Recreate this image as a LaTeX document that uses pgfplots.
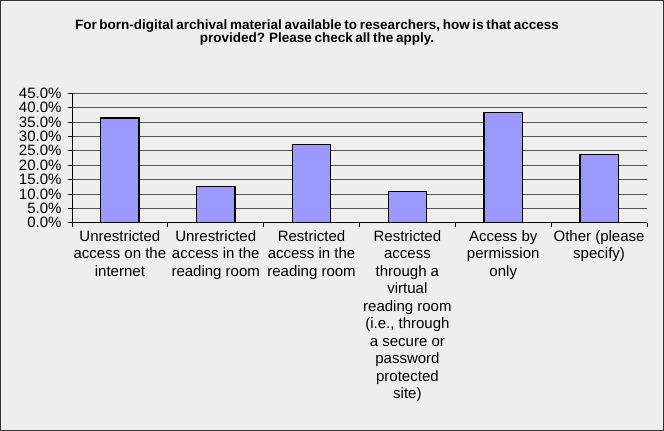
\documentclass[border=0pt]{standalone}
\usepackage{fontspec}
\setmainfont{Liberation Sans}
\usepackage{pgfplots}
\pgfplotsset{compat=1.18}
\definecolor{bg}{HTML}{EEEEEE}
\definecolor{barfill}{HTML}{9999FF}
\definecolor{frame}{HTML}{333333}
\definecolor{gridc}{HTML}{555555}
\newcommand\titlefont{\fontsize{13.5}{13.8}\selectfont\bfseries\spaceskip=0.2em\relax}
\begin{document}
\begin{tikzpicture}
% page background with its thin frame
\fill[bg] (0pt,0pt) rectangle (664pt,-431pt);
\draw[frame, line width=1pt] (0.5pt,-0.5pt) rectangle (663.5pt,-430.5pt);

\node[align=center, font=\titlefont] at (317pt,-32.5pt)
  {For born-digital archival material available to researchers, how is that access\\
   provided? Please check all the apply.};

\begin{axis}[
  at={(72pt,-222.7pt)}, anchor=south west,
  scale only axis,
  width=575pt, height=129.4pt,
  xmin=-0.5, xmax=5.5,
  ymin=0, ymax=45,
  axis x line*=bottom, axis y line*=left,
  axis line style={black, line width=0.8pt},
  ybar, bar width=0.4,
  xtick={0,...,5},
  xticklabels={
    {Unrestricted\\access on the\\internet},
    {Unrestricted\\access in the\\reading room},
    {Restricted\\access in the\\reading room},
    {Restricted\\access\\through a\\virtual\\reading room\\(i.e., through\\a secure or\\password\\protected\\site)},
    {Access by\\permission\\only},
    {Other (please\\specify)}},
  major x tick style={draw=none},
  minor xtick={-0.5,0.5,...,5.5},
  minor x tick style={black, line width=0.8pt},
  minor tick length=4pt,
  tick align=outside,
  xticklabel style={align=center, font=\fontsize{15}{17.5}\selectfont},
  ytick={0,5,...,45},
  major y tick style={black, line width=0.8pt},
  major tick length=4pt,
  yticklabel={\pgfmathprintnumber[fixed,fixed zerofill,precision=1]{\tick}\%},
  yticklabel style={font=\fontsize{15}{15}\selectfont, xshift=-3pt},
  /pgf/number format/assume math mode=true,
  ymajorgrids,
  grid style={gridc, line width=0.8pt},
  clip=false,
]
\addplot[fill=barfill, draw=black, line width=1.2pt] coordinates {
  (0,36.4) (1,12.7) (2,27.3) (3,10.9) (4,38.2) (5,23.6)
};
\end{axis}
\end{tikzpicture}
\end{document}
